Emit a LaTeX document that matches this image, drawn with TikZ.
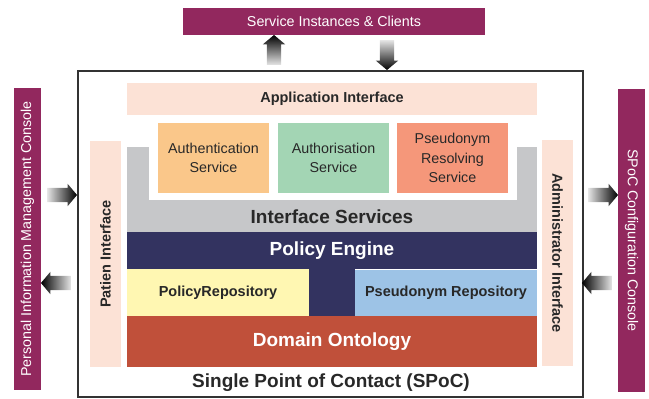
\documentclass[tikz,border=0pt]{standalone}
\usepackage{fontspec}
\setmainfont{Liberation Sans}
\usetikzlibrary{shapes.arrows}

\definecolor{console}{RGB}{146,40,94}
\definecolor{peach}{RGB}{252,226,214}
\definecolor{authcol}{RGB}{250,199,138}
\definecolor{authzcol}{RGB}{163,213,180}
\definecolor{pseudocol}{RGB}{245,151,122}
\definecolor{ifsgray}{RGB}{198,199,201}
\definecolor{engine}{RGB}{51,51,96}
\definecolor{polrepo}{RGB}{255,247,178}
\definecolor{pseurepo}{RGB}{157,195,230}
\definecolor{ontology}{RGB}{192,80,58}
\definecolor{txt}{RGB}{40,40,40}

\tikzset{
  block/.style={inner sep=0pt, align=center},
  small/.style={font=\fontsize{14.3}{19.5}\selectfont},
  smallbold/.style={font=\fontsize{14.5}{17}\selectfont\bfseries},
  big/.style={font=\fontsize{19}{22}\selectfont\bfseries},
  fatarrow/.style={single arrow, draw=none, inner sep=7pt,
    single arrow head extend=4pt, single arrow tip angle=100,
    minimum height=30pt, minimum width=0pt}
}

\begin{document}
\begin{tikzpicture}[x=1pt,y=-1pt]
\useasboundingbox (0,0) rectangle (649,399);
% consoles
\node[block, small, fill=console, text=white, minimum width=302, minimum height=27] (sic) at (334,21.5) {Service Instances \& Clients};
\node[block, small, fill=console, text=white, rotate=90, minimum width=302, minimum height=27] (pimc) at (27.5,239) {Personal Information Management Console};
\node[block, small, fill=console, text=white, rotate=-90, minimum width=303, minimum height=27] (scc) at (631.5,240.5) {SPoC Configuration Console};
% SPoC frame
\node[draw=black!80, line width=1.5pt, minimum width=505, minimum height=326] (spoc) at (330.5,234) {};
\node[big, txt] (spoctxt) at (331,383) {Single Point of Contact (SPoC)};
% arrows
\node[fatarrow, shape border rotate=90, top color=black, bottom color=black!10] (up) at (274,53) {};
\node[fatarrow, shape border rotate=270, top color=black!10, bottom color=black] (down) at (387,52) {};
\node[fatarrow, left color=black!10, right color=black] (lin) at (59,195) {};
\node[fatarrow, shape border rotate=180, left color=black, right color=black!10] (lout) at (59,283) {};
\node[fatarrow, left color=black!10, right color=black] (rout) at (600,195) {};
\node[fatarrow, shape border rotate=180, left color=black, right color=black!10] (rin) at (600,283) {};
% interfaces
\node[block, smallbold, txt, fill=peach, minimum width=410, minimum height=32] (app) at (332,99) {Application Interface};
\node[block, smallbold, txt, fill=peach, rotate=90, minimum width=226, minimum height=31] (pat) at (105.5,254) {Patien Interface};
\node[block, smallbold, txt, fill=peach, rotate=-90, minimum width=226, minimum height=31] (adm) at (557.5,253) {Administrator Interface};
% interface services
\node[block, fill=ifsgray, minimum width=410, minimum height=85] (ifs) at (332,189.5) {};
\fill[white] (149,146) rectangle (517,200);
\node[big, txt] (ifstxt) at (332,217) {Interface Services};
\node[block, small, txt, fill=authcol, minimum width=111, minimum height=70] (auth) at (213.5,158) {Authentication\\Service};
\node[block, small, txt, fill=authzcol, minimum width=111, minimum height=70] (authz) at (333.5,158) {Authorisation\\Service};
\node[block, small, txt, fill=pseudocol, minimum width=111, minimum height=70] (pres) at (452.5,158) {Pseudonym\\Resolving\\Service};
% policy engine and repositories
\node[block, big, white, fill=engine, minimum width=410, minimum height=37] (pe) at (332,250.5) {Policy Engine};
\fill[engine] (309,268) rectangle (355,317);
\node[block, smallbold, txt, fill=polrepo, minimum width=182, minimum height=48] (prepo) at (218,292.5) {PolicyRepository};
\node[block, smallbold, txt, fill=pseurepo, minimum width=182, minimum height=47] (psrepo) at (446,293) {Pseudonym Repository};
\node[block, big, white, fill=ontology, minimum width=410, minimum height=51] (onto) at (332,341.5) {Domain Ontology};
\end{tikzpicture}
\end{document}
